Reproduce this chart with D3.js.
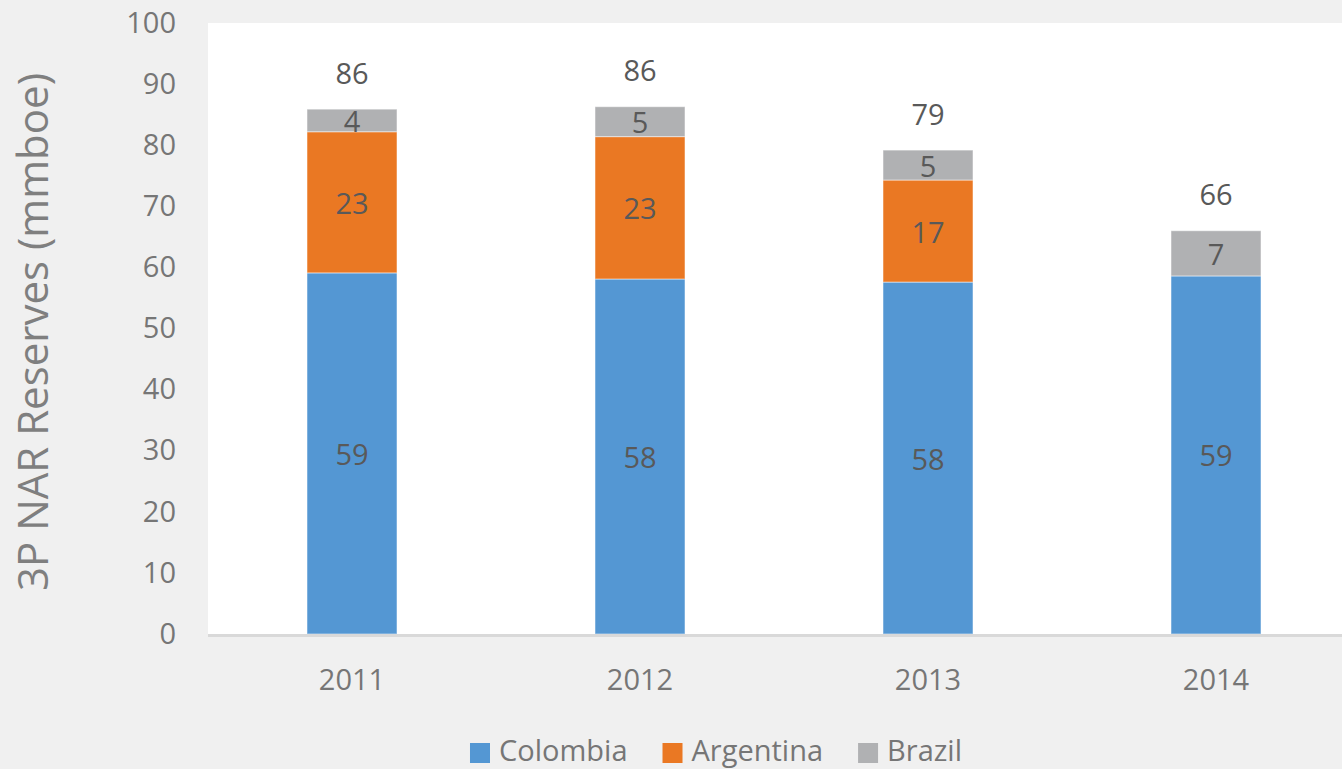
<!DOCTYPE html>
<html>
<head>
<meta charset="utf-8">
<script src="https://cdn.jsdelivr.net/npm/d3@7"></script>
<style>
  html, body { margin: 0; padding: 0; background: #f0f0f0; }
  svg { display: block; font-family: "Open Sans", "Noto Sans", sans-serif; }
</style>
</head>
<body>
<svg id="chart" width="1342" height="769"></svg>
<script>
// Reserve figures by year (mmboe)
const years = ["2011", "2012", "2013", "2014"];
const colombia = [59.1, 58.1, 57.6, 58.6];
const argentina = [23.1, 23.3, 16.7, 0];
const brazil = [3.7, 4.9, 4.9, 7.4];
const seriesNames = ["Colombia", "Argentina", "Brazil"];
const seriesColors = ["#5497d3", "#ea7823", "#b0b1b3"];
const yTicks = [0, 10, 20, 30, 40, 50, 60, 70, 80, 90, 100];

const rows = years.map((yr, i) => ({
  year: yr, Colombia: colombia[i], Argentina: argentina[i], Brazil: brazil[i]
}));

const svg = d3.select("#chart");
const W = 1342, H = 769;
const plotLeft = 208, plotRight = 1360, plotTop = 23, plotBottom = 634;

const x = d3.scaleBand().domain(years).range([plotLeft, plotRight])
  .paddingInner(0.6875).paddingOuter(0.34375);
const y = d3.scaleLinear().domain([0, 100]).range([plotBottom, plotTop]);
const color = d3.scaleOrdinal().domain(seriesNames).range(seriesColors);

// Background and plot area
svg.append("rect").attr("width", W).attr("height", H).attr("fill", "#f0f0f0");
svg.append("rect").attr("x", plotLeft).attr("y", y(100))
  .attr("width", W - plotLeft).attr("height", y(0) - y(100)).attr("fill", "#ffffff");

// Stacked bars
const stack = d3.stack().keys(seriesNames)(rows);
const layers = svg.append("g").selectAll("g").data(stack).join("g")
  .attr("fill", d => color(d.key));
layers.selectAll("rect").data(d => d.filter(s => s[1] - s[0] > 0)).join("rect")
  .attr("x", d => x(d.data.year))
  .attr("width", x.bandwidth())
  .attr("y", d => y(d[1]))
  .attr("height", d => y(d[0]) - y(d[1]))
  .attr("stroke", "#ffffff").attr("stroke-opacity", 0.5).attr("stroke-width", 1);

// Segment value labels
const fmt = d3.format(".0f");
const segLabels = svg.append("g");
stack.forEach(layer => {
  layer.filter(s => s[1] - s[0] > 0).forEach(s => {
    segLabels.append("text")
      .attr("x", x(s.data.year) + x.bandwidth() / 2)
      .attr("y", (y(s[0]) + y(s[1])) / 2)
      .attr("text-anchor", "middle")
      .attr("dominant-baseline", "central")
      .attr("font-size", 29)
      .attr("fill", "#595959")
      .text(fmt(s[1] - s[0]));
  });
});

// Totals above each bar
svg.append("g").selectAll("text").data(rows).join("text")
  .attr("x", d => x(d.year) + x.bandwidth() / 2)
  .attr("y", d => y(d.Colombia + d.Argentina + d.Brazil) - 37)
  .attr("text-anchor", "middle")
  .attr("dominant-baseline", "central")
  .attr("font-size", 29)
  .attr("fill", "#595959")
  .text(d => fmt(d.Colombia + d.Argentina + d.Brazil));

// Category axis line
svg.append("line")
  .attr("x1", plotLeft).attr("x2", W)
  .attr("y1", y(0) + 1.5).attr("y2", y(0) + 1.5)
  .attr("stroke", "#d9d9d9").attr("stroke-width", 3);

// Y axis tick labels
const yAxis = d3.axisLeft(y).tickValues(yTicks).tickSize(0).tickPadding(0);
const gy = svg.append("g").attr("transform", "translate(176,0)").call(yAxis);
gy.select(".domain").remove();
gy.selectAll("text").attr("font-size", 29).attr("fill", "#767676")
  .attr("font-family", "'Open Sans', sans-serif");

// X axis labels
const xAxis = d3.axisBottom(x).tickSize(0).tickPadding(0);
const gx = svg.append("g").attr("transform", `translate(0,${y(0) + 35})`).call(xAxis);
gx.select(".domain").remove();
gx.selectAll("text").attr("font-size", 29).attr("fill", "#767676")
  .attr("font-family", "'Open Sans', sans-serif")
  .attr("dy", "0.71em");

// Y axis title
svg.append("text")
  .attr("transform", `translate(48,332) rotate(-90)`)
  .attr("text-anchor", "middle")
  .attr("font-size", 42)
  .attr("fill", "#7f7f7f")
  .text("3P NAR Reserves (mmboe)");

// Legend
const legend = svg.append("g");
let lx = 0;
seriesNames.forEach((name, i) => {
  const item = legend.append("g").attr("transform", `translate(${lx},0)`);
  item.append("rect").attr("x", 0).attr("y", 743).attr("width", 20).attr("height", 20)
    .attr("fill", color(name));
  const t = item.append("text").attr("x", 29).attr("y", 761)
    .attr("font-size", 29).attr("fill", "#767676").text(name);
  lx += 29 + t.node().getComputedTextLength() + 35;
});
const legendWidth = lx - 35;
legend.attr("transform", `translate(${716 - legendWidth / 2},0)`);
</script>
</body>
</html>
